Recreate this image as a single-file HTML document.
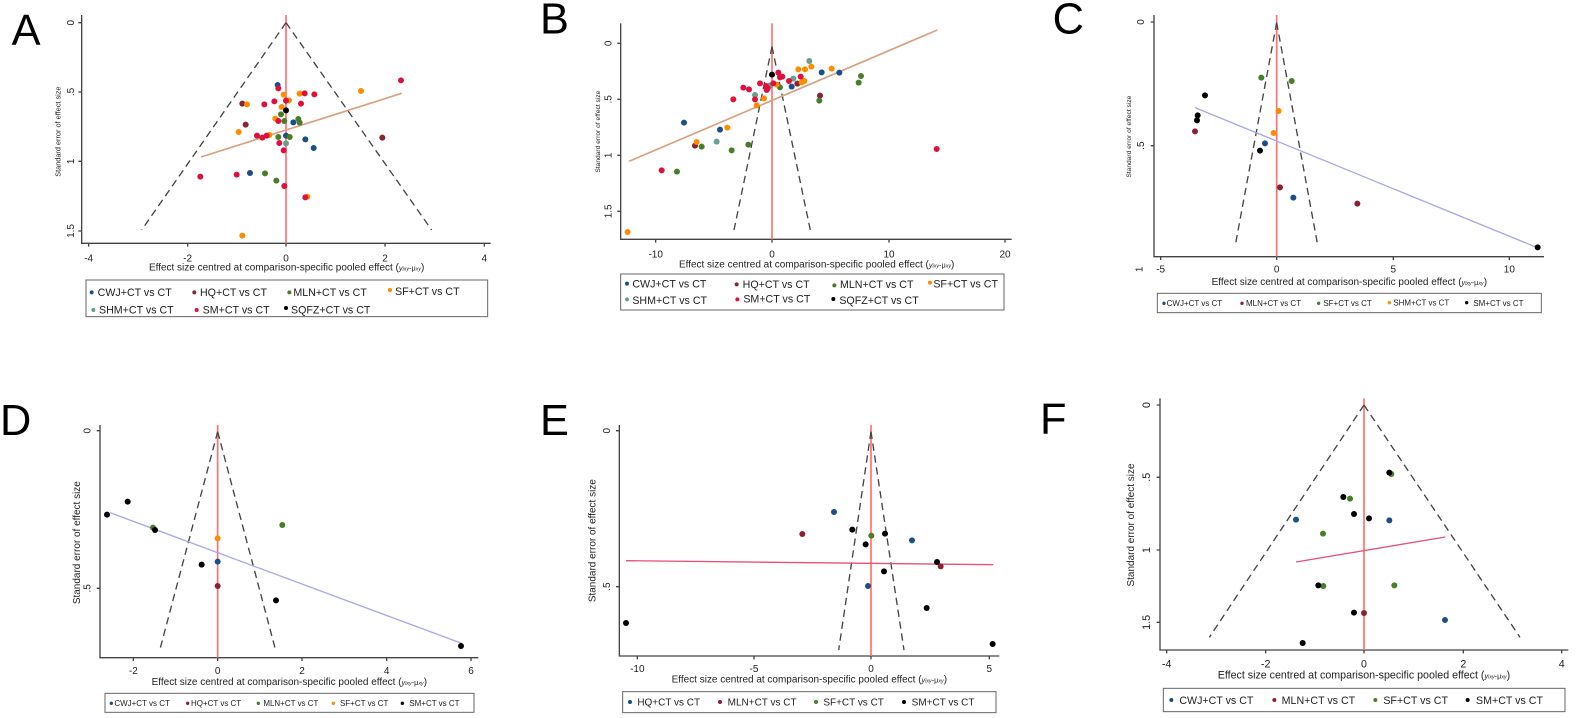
<!DOCTYPE html>
<html><head><meta charset="utf-8"><style>
html,body{margin:0;padding:0;background:#fff}
svg{display:block}
text{font-family:"Liberation Sans",Arial,sans-serif;fill:#222}
.ax{stroke:#444;stroke-width:4;fill:none}
.rl{stroke:#ff7070;stroke-width:5}
.da{stroke:#444;stroke-width:4;stroke-dasharray:22 14;fill:none}
.lg{stroke:#666;stroke-width:3;fill:#fff}
.b{fill:#1a4f8a}.dr{fill:#8b2232}.g{fill:#4a7d2a}.o{fill:#ff8c00}.t{fill:#6b9e8e}.r{fill:#e0103e}.k{fill:#000}
.L{font-size:130px;fill:#000}
</style></head><body>
<svg width="1579" height="718" viewBox="0 0 1579 718" xmlns="http://www.w3.org/2000/svg">

<!-- Panel A -->
<g transform="translate(0,0) scale(0.33333)">
<text class="L" x="35" y="135">A</text>
<path class="ax" d="M245 45V730H1472M235 68h10M235 276h10M235 484h10M235 693h10M266 730v10M563 730v10M858 730v10M1155 730v10M1453 730v10"/>
<g font-size="30" text-anchor="middle">
<text transform="translate(222,68) rotate(-90)">0</text><text transform="translate(222,276) rotate(-90)">.5</text><text transform="translate(222,484) rotate(-90)">1</text><text transform="translate(222,693) rotate(-90)">1.5</text>
<text x="266" y="785">-4</text><text x="563" y="785">-2</text><text x="858" y="785">0</text><text x="1155" y="785">2</text><text x="1453" y="785">4</text>
<text x="860" y="812">Effect size centred at comparison-specific pooled effect (<tspan font-style="italic" font-size="22">y</tspan><tspan font-size="16" font-style="italic">ixy</tspan><tspan font-size="22">-μ</tspan><tspan font-size="16" font-style="italic">xy</tspan>)</text>
<text font-size="22" transform="translate(182,395) rotate(-90)">Standard error of effect size</text>
</g>
<line class="rl" x1="858" y1="45" x2="858" y2="730"/>
<path class="da" d="M858 68L425 690M858 68L1295 690"/>
<line x1="603" y1="471" x2="1205" y2="280" stroke="#d9a080" stroke-width="5"/>
<g>
<circle class="b" cx="833" cy="255" r="9"/><circle class="b" cx="880" cy="367" r="9"/><circle class="b" cx="916" cy="418" r="9"/><circle class="b" cx="941" cy="444" r="9"/><circle class="b" cx="858" cy="407" r="9"/><circle class="b" cx="750" cy="519" r="9"/>
<circle class="dr" cx="727" cy="311" r="9"/><circle class="dr" cx="737" cy="374" r="9"/><circle class="dr" cx="1147" cy="413" r="9"/>
<circle class="g" cx="843" cy="343" r="9"/><circle class="g" cx="853" cy="363" r="9"/><circle class="g" cx="895" cy="357" r="9"/><circle class="g" cx="899" cy="368" r="9"/><circle class="g" cx="835" cy="411" r="9"/><circle class="g" cx="869" cy="411" r="9"/><circle class="g" cx="795" cy="520" r="9"/><circle class="g" cx="829" cy="542" r="9"/>
<circle class="o" cx="851" cy="284" r="9"/><circle class="o" cx="867" cy="301" r="9"/><circle class="o" cx="899" cy="281" r="9"/><circle class="o" cx="845" cy="321" r="9"/><circle class="o" cx="741" cy="313" r="9"/><circle class="o" cx="826" cy="356" r="9"/><circle class="o" cx="716" cy="396" r="9"/><circle class="o" cx="1083" cy="273" r="9"/><circle class="o" cx="922" cy="590" r="9"/><circle class="o" cx="727" cy="707" r="9"/><circle class="o" cx="808" cy="405" r="9"/>
<circle class="t" cx="858" cy="430" r="9"/>
<circle class="r" cx="1203" cy="241" r="9"/><circle class="r" cx="835" cy="265" r="9"/><circle class="r" cx="914" cy="280" r="9"/><circle class="r" cx="943" cy="283" r="9"/><circle class="r" cx="858" cy="302" r="9"/><circle class="r" cx="823" cy="304" r="9"/><circle class="r" cx="793" cy="313" r="9"/><circle class="r" cx="903" cy="311" r="9"/><circle class="r" cx="835" cy="363" r="9"/><circle class="r" cx="771" cy="407" r="9"/><circle class="r" cx="787" cy="413" r="9"/><circle class="r" cx="800" cy="407" r="9"/><circle class="r" cx="838" cy="429" r="9"/><circle class="r" cx="851" cy="451" r="9"/><circle class="r" cx="601" cy="530" r="9"/><circle class="r" cx="710" cy="524" r="9"/><circle class="r" cx="853" cy="558" r="9"/><circle class="r" cx="916" cy="592" r="9"/>
<circle class="k" cx="858" cy="331" r="9"/>
</g>
<rect class="lg" x="258" y="840" width="1205" height="110"/>
<g font-size="32">
<circle class="b" cx="275" cy="877" r="6"/><text x="293" y="888">CWJ+CT vs CT</text>
<circle class="dr" cx="583" cy="877" r="6"/><text x="600" y="888">HQ+CT vs CT</text>
<circle class="g" cx="868" cy="877" r="6"/><text x="880" y="888">MLN+CT vs CT</text>
<circle class="o" cx="1170" cy="870" r="6"/><text x="1185" y="885">SF+CT vs CT</text>
<circle class="t" cx="280" cy="930" r="6"/><text x="297" y="940">SHM+CT vs CT</text>
<circle class="r" cx="590" cy="930" r="6"/><text x="608" y="940">SM+CT vs CT</text>
<circle class="k" cx="858" cy="924" r="6"/><text x="873" y="940">SQFZ+CT vs CT</text>
</g>
</g>

<!-- Panel B -->
<g transform="translate(530,0) scale(0.33333)">
<text class="L" x="30" y="100">B</text>
<path class="ax" d="M272 70V718H1445M262 130h10M262 298h10M262 466h10M262 634h10M377 718v10M726 718v10M1077 718v10M1425 718v10"/>
<g font-size="30" text-anchor="middle">
<text transform="translate(245,130) rotate(-90)">0</text><text transform="translate(245,298) rotate(-90)">.5</text><text transform="translate(245,466) rotate(-90)">1</text><text transform="translate(245,634) rotate(-90)">1.5</text>
<text x="377" y="772">-10</text><text x="726" y="772">0</text><text x="1077" y="772">10</text><text x="1425" y="772">20</text>
<text x="860" y="803">Effect size centred at comparison-specific pooled effect (<tspan font-style="italic" font-size="22">y</tspan><tspan font-size="16" font-style="italic">ixy</tspan><tspan font-size="22">-μ</tspan><tspan font-size="16" font-style="italic">xy</tspan>)</text>
<text font-size="20" transform="translate(210,395) rotate(-90)">Standard error of effect size</text>
</g>
<line class="rl" x1="726" y1="70" x2="726" y2="718"/>
<path class="da" d="M726 140L610 700M726 140L843 700"/>
<line x1="297" y1="484" x2="1222" y2="90" stroke="#d9a080" stroke-width="5"/>
<g>
<circle class="b" cx="462" cy="368" r="9"/><circle class="b" cx="570" cy="389" r="9"/><circle class="b" cx="875" cy="217" r="9"/><circle class="b" cx="928" cy="218" r="9"/><circle class="b" cx="785" cy="260" r="9"/>
<circle class="dr" cx="495" cy="437" r="9"/><circle class="dr" cx="870" cy="287" r="9"/><circle class="dr" cx="802" cy="251" r="9"/>
<circle class="g" cx="515" cy="440" r="9"/><circle class="g" cx="605" cy="451" r="9"/><circle class="g" cx="655" cy="434" r="9"/><circle class="g" cx="441" cy="515" r="9"/><circle class="g" cx="868" cy="302" r="9"/><circle class="g" cx="986" cy="248" r="9"/><circle class="g" cx="993" cy="228" r="9"/><circle class="g" cx="750" cy="262" r="9"/>
<circle class="o" cx="500" cy="426" r="9"/><circle class="o" cx="592" cy="383" r="9"/><circle class="o" cx="680" cy="316" r="9"/><circle class="o" cx="702" cy="295" r="9"/><circle class="o" cx="805" cy="208" r="9"/><circle class="o" cx="825" cy="208" r="9"/><circle class="o" cx="844" cy="200" r="9"/><circle class="o" cx="905" cy="206" r="9"/><circle class="o" cx="815" cy="247" r="9"/><circle class="o" cx="823" cy="243" r="9"/><circle class="o" cx="293" cy="696" r="9"/><circle class="o" cx="740" cy="254" r="9"/>
<circle class="t" cx="675" cy="285" r="9"/><circle class="t" cx="560" cy="425" r="9"/><circle class="t" cx="838" cy="183" r="9"/><circle class="t" cx="790" cy="236" r="9"/><circle class="t" cx="720" cy="256" r="9"/>
<circle class="r" cx="395" cy="511" r="9"/><circle class="r" cx="610" cy="298" r="9"/><circle class="r" cx="640" cy="263" r="9"/><circle class="r" cx="657" cy="268" r="9"/><circle class="r" cx="690" cy="250" r="9"/><circle class="r" cx="675" cy="298" r="9"/><circle class="r" cx="713" cy="265" r="9"/><circle class="r" cx="745" cy="218" r="9"/><circle class="r" cx="750" cy="232" r="9"/><circle class="r" cx="757" cy="230" r="9"/><circle class="r" cx="777" cy="243" r="9"/><circle class="r" cx="812" cy="230" r="9"/><circle class="r" cx="710" cy="270" r="9"/><circle class="r" cx="730" cy="250" r="9"/><circle class="r" cx="1220" cy="447" r="9"/><circle class="r" cx="708" cy="258" r="9"/>
<circle class="k" cx="726" cy="224" r="9"/>
</g>
<rect class="lg" x="272" y="822" width="1150" height="108"/>
<g font-size="32">
<circle class="b" cx="291" cy="851" r="6"/><text x="307" y="862">CWJ+CT vs CT</text>
<circle class="dr" cx="620" cy="853" r="6"/><text x="638" y="864">HQ+CT vs CT</text>
<circle class="g" cx="913" cy="856" r="6"/><text x="930" y="864">MLN+CT vs CT</text>
<circle class="o" cx="1200" cy="848" r="6"/><text x="1210" y="862">SF+CT vs CT</text>
<circle class="t" cx="291" cy="898" r="6"/><text x="307" y="912">SHM+CT vs CT</text>
<circle class="r" cx="622" cy="898" r="6"/><text x="640" y="908">SM+CT vs CT</text>
<circle class="k" cx="910" cy="897" r="6"/><text x="928" y="912">SQFZ+CT vs CT</text>
</g>
</g>

<!-- Panel C -->
<g transform="translate(1050,0) scale(0.33333)">
<text class="L" x="8" y="100">C</text>
<path class="ax" d="M312 45V770H1482M302 66h10M302 437h10M332 770v10M680 770v10M1030 770v10M1378 770v10"/>
<g font-size="30" text-anchor="middle">
<text transform="translate(282,66) rotate(-90)">0</text><text transform="translate(282,437) rotate(-90)">.5</text>
<text transform="translate(278,808) rotate(-90)">1</text>
<text x="332" y="818">-5</text><text x="680" y="818">0</text><text x="1030" y="818">5</text><text x="1378" y="818">10</text>
<text x="898" y="855">Effect size centred at comparison-specific pooled effect (<tspan font-style="italic" font-size="22">y</tspan><tspan font-size="16" font-style="italic">ixy</tspan><tspan font-size="22">-μ</tspan><tspan font-size="16" font-style="italic">xy</tspan>)</text>
<text font-size="20" transform="translate(243,410) rotate(-90)">Standard error of effect size</text>
</g>
<line class="rl" x1="680" y1="45" x2="680" y2="770"/>
<path class="da" d="M680 68L556 735M680 68L803 735"/>
<line x1="435" y1="323" x2="1462" y2="743" stroke="#a8a8ee" stroke-width="4"/>
<g>
<circle class="b" cx="645" cy="430" r="9"/><circle class="b" cx="730" cy="593" r="9"/>
<circle class="dr" cx="435" cy="394" r="9"/><circle class="dr" cx="690" cy="562" r="9"/><circle class="dr" cx="922" cy="611" r="9"/>
<circle class="g" cx="634" cy="233" r="9"/><circle class="g" cx="725" cy="243" r="9"/>
<circle class="o" cx="686" cy="333" r="9"/><circle class="o" cx="671" cy="399" r="9"/>
<circle class="k" cx="465" cy="286" r="9"/><circle class="k" cx="443" cy="346" r="9"/><circle class="k" cx="441" cy="361" r="9"/><circle class="k" cx="630" cy="452" r="9"/><circle class="k" cx="1463" cy="742" r="9"/>
</g>
<rect class="lg" x="322" y="880" width="1152" height="58"/>
<g font-size="24">
<circle class="b" cx="342" cy="910" r="5"/><text x="350" y="918">CWJ+CT vs CT</text>
<circle class="dr" cx="576" cy="910" r="5"/><text x="588" y="918">MLN+CT vs CT</text>
<circle class="g" cx="806" cy="910" r="5"/><text x="820" y="918">SF+CT vs CT</text>
<circle class="o" cx="1018" cy="908" r="5"/><text x="1030" y="916">SHM+CT vs CT</text>
<circle class="k" cx="1250" cy="908" r="5"/><text x="1270" y="918">SM+CT vs CT</text>
</g>
</g>

<!-- Panel D -->
<g transform="translate(0,390) scale(0.33333)">
<text class="L" x="0" y="135">D</text>
<path class="ax" d="M300 105V803H1435M290 122h10M290 595h10M400 803v10M653 803v10M906 803v10M1160 803v10M1413 803v10"/>
<g font-size="30" text-anchor="middle">
<text transform="translate(272,122) rotate(-90)">0</text><text transform="translate(272,595) rotate(-90)">.5</text>
<text x="400" y="852">-2</text><text x="653" y="852">0</text><text x="906" y="852">2</text><text x="1160" y="852">4</text><text x="1413" y="852">6</text>
<text x="868" y="885">Effect size centred at comparison-specific pooled effect (<tspan font-style="italic" font-size="22">y</tspan><tspan font-size="16" font-style="italic">ixy</tspan><tspan font-size="22">-μ</tspan><tspan font-size="16" font-style="italic">xy</tspan>)</text>
<text font-size="30" transform="translate(240,458) rotate(-90)">Standard error of effect size</text>
</g>
<line class="rl" x1="653" y1="105" x2="653" y2="803"/>
<path class="da" d="M653 125L478 785M653 125L828 785"/>
<line x1="330" y1="368" x2="1385" y2="760" stroke="#a8a8ee" stroke-width="4"/>
<g>
<circle class="b" cx="653" cy="515" r="9"/><circle class="dr" cx="653" cy="588" r="9"/>
<circle class="g" cx="459" cy="413" r="9"/><circle class="g" cx="847" cy="405" r="9"/>
<circle class="o" cx="653" cy="445" r="9"/>
<circle class="k" cx="383" cy="335" r="9"/><circle class="k" cx="321" cy="374" r="9"/><circle class="k" cx="465" cy="420" r="9"/><circle class="k" cx="605" cy="524" r="9"/><circle class="k" cx="828" cy="631" r="9"/><circle class="k" cx="1383" cy="768" r="9"/>
</g>
<rect class="lg" x="315" y="910" width="1107" height="57"/>
<g font-size="24">
<circle class="b" cx="334" cy="940" r="5"/><text x="343" y="948">CWJ+CT vs CT</text>
<circle class="dr" cx="563" cy="940" r="5"/><text x="573" y="948">HQ+CT vs CT</text>
<circle class="g" cx="775" cy="940" r="5"/><text x="790" y="948">MLN+CT vs CT</text>
<circle class="o" cx="1000" cy="940" r="5"/><text x="1020" y="948">SF+CT vs CT</text>
<circle class="k" cx="1207" cy="940" r="5"/><text x="1228" y="948">SM+CT vs CT</text>
</g>
</g>

<!-- Panel E -->
<g transform="translate(530,390) scale(0.33333)">
<text class="L" x="30" y="135">E</text>
<path class="ax" d="M268 105V798H1408M258 122h10M258 590h10M322 798v10M672 798v10M1023 798v10M1378 798v10"/>
<g font-size="30" text-anchor="middle">
<text transform="translate(240,122) rotate(-90)">0</text><text transform="translate(240,590) rotate(-90)">.5</text>
<text x="322" y="846">-10</text><text x="672" y="846">-5</text><text x="1023" y="846">0</text><text x="1378" y="846">5</text>
<text x="838" y="878">Effect size centred at comparison-specific pooled effect (<tspan font-style="italic" font-size="22">y</tspan><tspan font-size="16" font-style="italic">ixy</tspan><tspan font-size="22">-μ</tspan><tspan font-size="16" font-style="italic">xy</tspan>)</text>
<text font-size="30" transform="translate(196,452) rotate(-90)">Standard error of effect size</text>
</g>
<line class="rl" x1="1023" y1="105" x2="1023" y2="798"/>
<path class="da" d="M1023 125L926 780M1023 125L1122 780"/>
<line x1="288" y1="512" x2="1390" y2="524" stroke="#e8507a" stroke-width="4"/>
<g>
<circle class="b" cx="912" cy="366" r="9"/><circle class="b" cx="1146" cy="451" r="9"/><circle class="b" cx="1014" cy="588" r="9"/>
<circle class="dr" cx="817" cy="432" r="9"/><circle class="dr" cx="1232" cy="529" r="9"/>
<circle class="g" cx="1024" cy="437" r="9"/>
<circle class="k" cx="967" cy="419" r="9"/><circle class="k" cx="1065" cy="431" r="9"/><circle class="k" cx="1007" cy="463" r="9"/><circle class="k" cx="1221" cy="516" r="9"/><circle class="k" cx="1062" cy="544" r="9"/><circle class="k" cx="1190" cy="654" r="9"/><circle class="k" cx="288" cy="699" r="9"/><circle class="k" cx="1388" cy="762" r="9"/>
</g>
<rect class="lg" x="278" y="905" width="1120" height="63"/>
<g font-size="30">
<circle class="b" cx="300" cy="936" r="6"/><text x="322" y="947">HQ+CT vs CT</text>
<circle class="dr" cx="570" cy="936" r="6"/><text x="593" y="947">MLN+CT vs CT</text>
<circle class="g" cx="858" cy="936" r="6"/><text x="880" y="947">SF+CT vs CT</text>
<circle class="k" cx="1122" cy="936" r="6"/><text x="1145" y="947">SM+CT vs CT</text>
</g>
</g>

<!-- Panel F -->
<g transform="translate(1050,390) scale(0.33333)">
<text class="L" x="-30" y="130">F</text>
<path class="ax" d="M330 25V780H1555M320 45h10M320 262h10M320 480h10M320 697h10M350 780v10M647 780v10M942 780v10M1240 780v10M1535 780v10"/>
<g font-size="32" text-anchor="middle">
<text transform="translate(300,45) rotate(-90)">0</text><text transform="translate(300,262) rotate(-90)">.5</text><text transform="translate(300,480) rotate(-90)">1</text><text transform="translate(300,697) rotate(-90)">1.5</text>
<text x="350" y="833">-4</text><text x="647" y="833">-2</text><text x="942" y="833">0</text><text x="1240" y="833">2</text><text x="1535" y="833">4</text>
<text x="942" y="866">Effect size centred at comparison-specific pooled effect (<tspan font-style="italic" font-size="22">y</tspan><tspan font-size="16" font-style="italic">ixy</tspan><tspan font-size="22">-μ</tspan><tspan font-size="16" font-style="italic">xy</tspan>)</text>
<text font-size="30" transform="translate(252,405) rotate(-90)">Standard error of effect size</text>
</g>
<line class="rl" x1="942" y1="25" x2="942" y2="780"/>
<path class="da" d="M942 45L478 742M942 45L1410 742"/>
<line x1="738" y1="516" x2="1186" y2="441" stroke="#e8507a" stroke-width="4"/>
<g>
<circle class="b" cx="738" cy="389" r="9"/><circle class="b" cx="1018" cy="391" r="9"/><circle class="b" cx="1185" cy="690" r="9"/>
<circle class="dr" cx="942" cy="669" r="9"/>
<circle class="g" cx="1024" cy="252" r="9"/><circle class="g" cx="900" cy="326" r="9"/><circle class="g" cx="819" cy="431" r="9"/><circle class="g" cx="820" cy="588" r="9"/><circle class="g" cx="1033" cy="586" r="9"/>
<circle class="k" cx="1018" cy="248" r="9"/><circle class="k" cx="880" cy="321" r="9"/><circle class="k" cx="912" cy="372" r="9"/><circle class="k" cx="957" cy="385" r="9"/><circle class="k" cx="805" cy="586" r="9"/><circle class="k" cx="912" cy="668" r="9"/><circle class="k" cx="758" cy="759" r="9"/>
</g>
<rect class="lg" x="340" y="895" width="1205" height="70"/>
<g font-size="32">
<circle class="b" cx="364" cy="930" r="6"/><text x="388" y="942">CWJ+CT vs CT</text>
<circle class="dr" cx="673" cy="930" r="6"/><text x="695" y="942">MLN+CT vs CT</text>
<circle class="g" cx="976" cy="930" r="6"/><text x="1000" y="942">SF+CT vs CT</text>
<circle class="k" cx="1253" cy="930" r="6"/><text x="1278" y="942">SM+CT vs CT</text>
</g>
</g>
</svg>
</body></html>
